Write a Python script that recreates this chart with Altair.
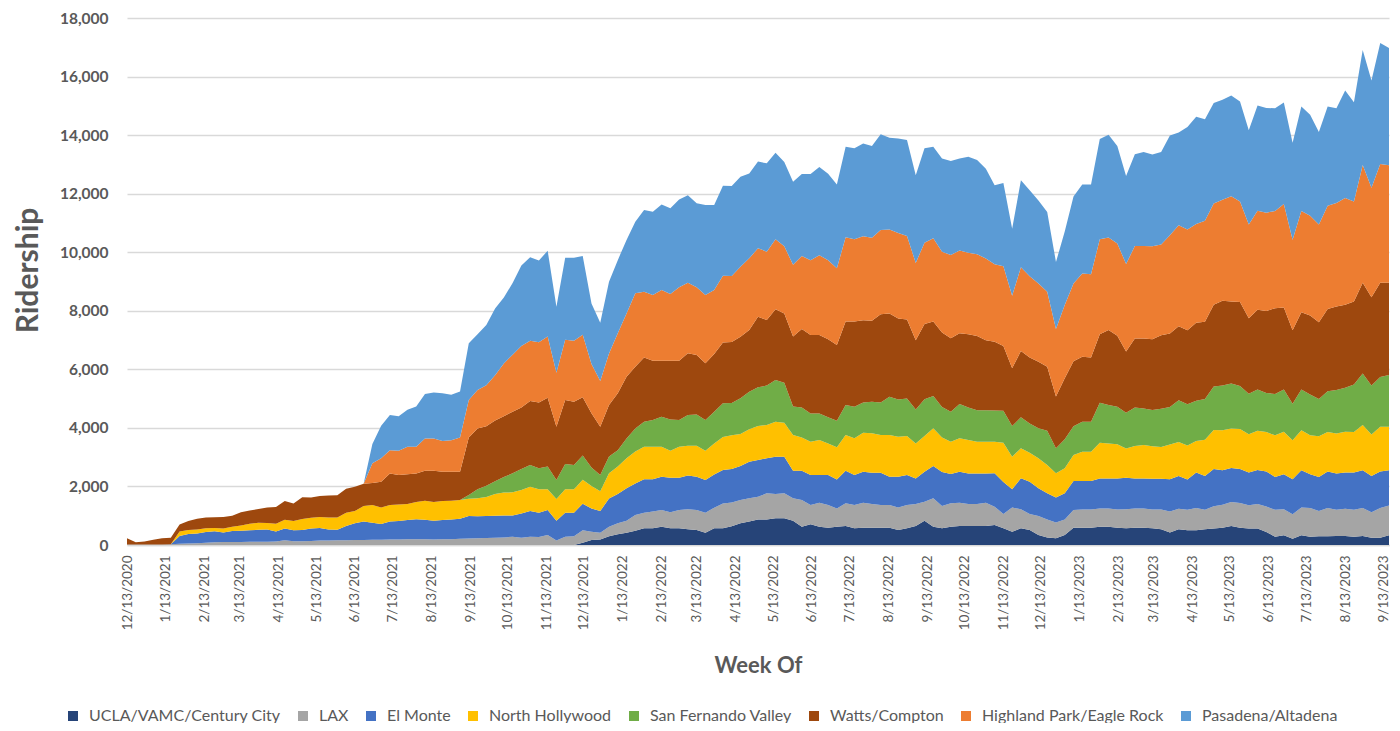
import altair as alt
import pandas as pd

# ---------------- data (weekly, starting week of 12/13/2020) ----------------
weeks = pd.date_range("2020-12-13", periods=145, freq="7D")

series_names = [
    "UCLA/VAMC/Century City", "LAX", "El Monte", "North Hollywood",
    "San Fernando Valley", "Watts/Compton", "Highland Park/Eagle Rock",
    "Pasadena/Altadena",
]
series_colors = ["#264478", "#A5A5A5", "#4472C4", "#FFC000",
                 "#70AD47", "#9E480E", "#ED7D31", "#5B9BD5"]

ucla = ([0] * 52 +
        [80, 170, 190, 300, 370, 420, 490, 570,
         570, 625, 570, 570, 535, 510, 420, 570, 570, 640,
         740, 800, 875, 875, 910, 910, 830, 625, 705, 625,
         590, 625, 650, 570, 590, 590, 590, 590, 510, 570,
         650, 830, 625, 570, 625, 650, 650, 650, 650, 685,
         570, 455, 570, 510, 340, 260, 230, 340, 590, 590,
         590, 625, 625, 590, 570, 590, 590, 570, 540, 425,
         540, 505, 505, 540, 565, 585, 645, 585, 565, 565,
         445, 285, 330, 215, 330, 285, 300, 300, 310, 310,
         285, 310, 250, 250, 330])

lax = [20, 15, 15, 20, 20, 25, 40, 50, 60, 80,
       90, 100, 100, 100, 110, 110, 110, 120, 160, 130,
       130, 140, 150, 150, 160, 160, 170, 170, 180, 180,
       190, 190, 200, 200, 200, 190, 200, 200, 210, 220,
       230, 240, 250, 260, 280, 250, 285, 270, 340, 150,
       285, 300, 420, 285, 230, 325, 370, 410, 535, 535,
       570, 570, 545, 625, 685, 685, 685, 705, 850, 810,
       800, 795, 775, 890, 830, 855, 765, 910, 660, 820,
       775, 625, 775, 795, 855, 810, 775, 775, 775, 795,
       750, 650, 970, 760, 800, 795, 750, 750, 795, 625,
       490, 830, 650, 545, 650, 615, 535, 535, 605, 625,
       625, 625, 625, 625, 650, 660, 660, 640, 670, 720,
       695, 695, 755, 660, 755, 790, 825, 850, 790, 835,
       870, 915, 895, 835, 950, 975, 865, 960, 890, 930,
       915, 950, 870, 1010, 1020]

el_monte = [0, 0, 0, 0, 0, 0, 270, 325, 330, 360,
            380, 330, 380, 390, 395, 410, 420, 340, 405, 370,
            380, 420, 430, 380, 360, 490, 570, 630, 580, 540,
            610, 630, 650, 680, 660, 640, 650, 670, 690, 770,
            750, 750, 750, 750, 730, 830, 875, 835, 855, 680,
            820, 805, 910, 795, 740, 965, 1000, 1105, 1075, 1145,
            1110, 1135, 1185, 1105, 1150, 1135, 1115, 1135, 1140, 1150,
            1160, 1250, 1255, 1195, 1275, 1250, 945, 1000, 1025, 945,
            1025, 990, 1115, 1025, 1060, 1070, 1105, 965, 1045, 1025,
            875, 1025, 1105, 1160, 1000, 1060, 1045, 1045, 1000, 1140,
            1090, 615, 1060, 1105, 945, 890, 855, 890, 990, 970,
            970, 1025, 1025, 1060, 1080, 1025, 1025, 1050, 1050, 1100,
            1125, 1040, 1215, 1160, 1275, 1180, 1160, 1160, 1125, 1160,
            1195, 1125, 1195, 1195, 1275, 1160, 1160, 1250, 1240, 1240,
            1275, 1295, 1240, 1250, 1205]

north_hollywood = [0, 0, 0, 0, 0, 0, 150, 135, 140, 130,
                   110, 130, 145, 180, 225, 240, 220, 270, 300, 320,
                   380, 375, 380, 410, 420, 450, 420, 530, 610, 560,
                   570, 560, 550, 590, 650, 640, 650, 640, 640, 590,
                   620, 650, 740, 780, 790, 800, 830, 795, 705, 740,
                   795, 795, 820, 765, 680, 860, 940, 1025, 1090, 1110,
                   1110, 1030, 920, 1060, 1020, 1060, 1000, 1060, 1130, 1150,
                   1090, 1105, 1160, 1140, 1195, 1160, 1220, 1140, 1140, 1195,
                   1080, 1095, 1220, 1255, 1330, 1345, 1285, 1425, 1365, 1330,
                   1195, 1220, 1285, 1180, 1105, 1140, 1140, 1080, 1080, 1080,
                   1345, 1115, 1025, 990, 1025, 970, 830, 855, 885, 1000,
                   1000, 1220, 1195, 1170, 1000, 1105, 1140, 1110, 1090, 1190,
                   1155, 1155, 1075, 1235, 1330, 1365, 1350, 1365, 1305, 1340,
                   1350, 1420, 1445, 1330, 1365, 1330, 1390, 1350, 1365, 1385,
                   1385, 1540, 1410, 1525, 1480]

san_fernando = ([0] * 39 +
                [130,
                 300, 380, 440, 530, 650, 720, 740, 720, 780, 650,
                 870, 830, 830, 635, 550, 570, 560, 680, 790, 850,
                 910, 1020, 1070, 910, 1050, 1070, 1050, 1080, 1150, 1100,
                 1220, 1285, 1320, 1345, 1425, 1365, 970, 1025, 965, 910,
                 890, 910, 1025, 1080, 1035, 1080, 1115, 1310, 1275, 1285,
                 1160, 1250, 1105, 1040, 1025, 1170, 1115, 1080, 1080, 1060,
                 1090, 1050, 1060, 1000, 1025, 1170, 855, 990, 990, 1025,
                 1025, 1365, 1310, 1275, 1220, 1320, 1250, 1240, 1300, 1275,
                 1425, 1415, 1380, 1390, 1485, 1530, 1540, 1470, 1380, 1415,
                 1330, 1415, 1450, 1250, 1390, 1390, 1275, 1390, 1485, 1505,
                 1620, 1760, 1680, 1705, 1770])

watts = [210, 75, 105, 160, 210, 225, 240, 310, 370, 370,
         370, 400, 375, 450, 450, 470, 530, 570, 635, 600,
         740, 685, 710, 750, 760, 820, 830, 760, 750, 880,
         1070, 1010, 1020, 970, 1030, 1070, 1000, 990, 960, 1960,
         2080, 2040, 2070, 2080, 2100, 2100, 2190, 2250, 2350, 1820,
         2180, 2165, 1990, 1850, 1650, 1760, 1940, 2110, 2110, 2190,
         2020, 1910, 2000, 2020, 2110, 2030, 1935, 1970, 2080, 2080,
         2105, 2105, 2415, 2240, 2415, 2365, 2390, 2675, 2675, 2675,
         2665, 2585, 2845, 2905, 2810, 2765, 3015, 2845, 2765, 2700,
         2365, 2575, 2540, 2545, 2505, 2415, 2495, 2530, 2390, 2355,
         2210, 1970, 2265, 2255, 2275, 2185, 1765, 2085, 2220, 2220,
         2195, 2335, 2560, 2425, 2085, 2355, 2390, 2415, 2515, 2510,
         2535, 2525, 2660, 2640, 2800, 2895, 2800, 2870, 2580, 2720,
         2800, 2930, 2800, 2510, 2640, 2700, 2615, 2815, 2860, 2835,
         2835, 3105, 3010, 3220, 3150]

highland_park = ([0] * 28 +
                 [670, 800,
                  800, 830, 940, 920, 1100, 1100, 1050, 1080, 1170, 1280,
                  1310, 1400, 1550, 1800, 1950, 2100, 2060, 2055, 2090, 1845,
                  2060, 2085, 2130, 1680, 1560, 1765, 2050, 2160, 2510, 2250,
                  2250, 2420, 2280, 2510, 2410, 2310, 2335, 2190, 2280, 2260,
                  2390, 2450, 2335, 2335, 2390, 2300, 2450, 2495, 2560, 2730,
                  2705, 2620, 2880, 2810, 2865, 2835, 2870, 2870, 2925, 2845,
                  2640, 2775, 2845, 2760, 2845, 2825, 2790, 2800, 2790, 2640,
                  2730, 2480, 2855, 2775, 2675, 2560, 2310, 2505, 2655, 2845,
                  2845, 3245, 3165, 3155, 2995, 3155, 3155, 3175, 3095, 3360,
                  3450, 3440, 3370, 3450, 3450, 3450, 3590, 3435, 3205, 3380,
                  3355, 3320, 3530, 3090, 3460, 3405, 3345, 3520, 3530, 3645,
                  3415, 4015, 3740, 4050, 4015])

pasadena = ([0] * 28 +
            [660, 1110,
             1200, 1180, 1260, 1370, 1520, 1570, 1630, 1550, 1570, 1940,
             1910, 2050, 2280, 2250, 2450, 2750, 2845, 2790, 2930, 2255,
             2800, 2830, 2690, 2070, 1990, 2445, 2500, 2510, 2440, 2790,
             2840, 2920, 2930, 3000, 2990, 2870, 3070, 2900, 3070, 3070,
             3075, 2900, 2960, 3015, 2960, 2880, 2840, 2800, 2940, 3010,
             2950, 2860, 3095, 3110, 3170, 3135, 3275, 3130, 3225, 3280,
             2990, 3225, 3130, 3185, 3215, 3150, 3275, 3215, 3070, 2705,
             2840, 2285, 2970, 2935, 2835, 2720, 2285, 2505, 2965, 3035,
             3065, 3430, 3505, 3330, 3005, 3140, 3210, 3140, 3160, 3410,
             3160, 3505, 3665, 3470, 3435, 3415, 3445, 3415, 3215, 3595,
             3585, 3505, 3470, 3310, 3565, 3450, 3160, 3390, 3240, 3670,
             3390, 3935, 3665, 4135, 4005])

all_series = [ucla, lax, el_monte, north_hollywood, san_fernando,
              watts, highland_park, pasadena]

rows = []
for k, (name, vals) in enumerate(zip(series_names, all_series)):
    for d, v in zip(weeks, vals):
        rows.append({"week": d.strftime("%Y-%m-%d"), "series": name,
                     "ord": k, "value": v})
df = pd.DataFrame(rows)

# monthly tick labels on the 13th
tick_months = [(2020, 12)] + [(2021, m) for m in range(1, 13)] + \
              [(2022, m) for m in range(1, 13)] + [(2023, m) for m in range(1, 10)]
tick_dates = [alt.DateTime(year=y, month=m, date=13, utc=True) for y, m in tick_months]
y_ticks = list(range(0, 18001, 2000))

FONT = "Lato"
GREY = "#595959"

chart = alt.Chart(df).mark_area(interpolate="linear", opacity=1).encode(
    x=alt.X(
        "week:T",
        scale=alt.Scale(type="utc", nice=False,
                        domain=[alt.DateTime(year=2020, month=12, date=13, utc=True),
                                alt.DateTime(year=2023, month=9, date=17, utc=True)]),
        axis=alt.Axis(
            values=tick_dates, format="%-m/%-d/%Y", labelAngle=270,
            labelAlign="right", labelBaseline="middle", labelOverlap=False,
            labelFont=FONT, labelFontSize=13.5, labelColor=GREY, labelPadding=10,
            ticks=False, grid=False, domainColor="#D9D9D9", domainWidth=1.5,
            title="Week Of", titleFont=FONT, titleFontSize=22, titleFontWeight="bold",
            titleColor=GREY, titleY=120, titleBaseline="middle",
        ),
    ),
    y=alt.Y(
        "value:Q", stack="zero",
        scale=alt.Scale(domain=[0, 18000], nice=False),
        axis=alt.Axis(
            values=y_ticks, format=",.0f", ticks=False, domain=False,
            labelFont=FONT, labelFontSize=15.5, labelFontWeight="bold",
            labelColor=GREY, labelPadding=19,
            grid=True, gridColor="#D9D9D9", gridWidth=1.5,
            title="Ridership", titleFont=FONT, titleFontSize=30,
            titleFontWeight="bold", titleColor=GREY,
            titleX=-99, titleY=252, titleAngle=270, titleAlign="center",
            titleBaseline="middle",
        ),
    ),
    color=alt.Color(
        "series:N",
        scale=alt.Scale(domain=series_names, range=series_colors),
        sort=series_names,
        legend=alt.Legend(
            title=None, orient="none", legendX=-62, legendY=690,
            direction="horizontal", columns=8, columnPadding=14,
            symbolType="square", symbolSize=100, symbolStrokeWidth=0,
            labelOffset=8, labelFont=FONT, labelFontSize=16, labelColor=GREY,
            labelLimit=400, padding=0,
        ),
    ),
    order=alt.Order("ord:Q", sort="ascending"),
).properties(
    width=1262, height=527,
    padding={"left": 119, "top": 10, "right": 3, "bottom": 178},
    autosize=alt.AutoSizeParams(type="none"),
    background="white",
).configure_view(stroke=None)

chart.save("out.html", embed_options={"renderer": "svg", "actions": False})
